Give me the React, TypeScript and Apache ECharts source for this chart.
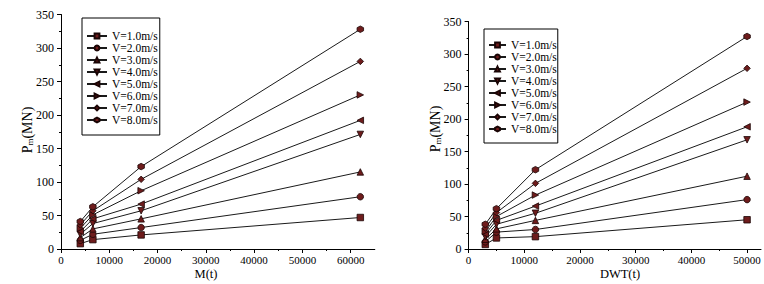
import React, { useEffect, useRef } from "react";
import * as echarts from "echarts";

const speedNames = ["V=1.0m/s", "V=2.0m/s", "V=3.0m/s", "V=4.0m/s", "V=5.0m/s", "V=6.0m/s", "V=7.0m/s", "V=8.0m/s"];

// left chart: displacement M(t)
const leftMass = [4000, 6600, 16600, 62000];
const leftV1 = [8, 14, 21, 47];
const leftV2 = [13, 22, 32, 78];
const leftV3 = [17, 30, 45, 115];
const leftV4 = [22, 38, 57, 171];
const leftV5 = [26, 45, 67, 192];
const leftV6 = [31, 51, 87, 230];
const leftV7 = [36, 57, 104, 280];
const leftV8 = [41, 63, 123, 328];

// right chart: DWT(t)
const rightDwt = [3000, 5000, 12000, 50000];
const rightV1 = [7, 17, 19, 45];
const rightV2 = [11, 26, 30, 76];
const rightV3 = [15, 31, 44, 112];
const rightV4 = [19, 38, 55, 168];
const rightV5 = [23, 44, 66, 188];
const rightV6 = [27, 50, 83, 226];
const rightV7 = [32, 56, 101, 278];
const rightV8 = [38, 62, 122, 327];

const yTicks = [0, 50, 100, 150, 200, 250, 300, 350];
const leftXMajor = [0, 10000, 20000, 30000, 40000, 50000, 60000];
const leftXMinor = [5000, 15000, 25000, 35000, 45000, 55000];
const rightXMajor = [0, 10000, 20000, 30000, 40000, 50000];
const rightXMinor = [5000, 15000, 25000, 35000, 45000];

const leftSeries = [leftV1, leftV2, leftV3, leftV4, leftV5, leftV6, leftV7, leftV8];
const rightSeries = [rightV1, rightV2, rightV3, rightV4, rightV5, rightV6, rightV7, rightV8];

const symbols = [
  "rect",
  "circle",
  "triangle",
  "path://M0,0L10,0L5,9Z",
  "path://M9,0L9,10L0,5Z",
  "path://M0,0L0,10L9,5Z",
  "diamond",
  "path://M5,0L9.5,2.6L9.5,7.4L5,10L0.5,7.4L0.5,2.6Z",
];

const FONT = "Liberation Serif";

export default function App() {
  const ref = useRef<HTMLDivElement>(null);
  useEffect(() => {
    if (!ref.current) return;
    const chart = echarts.init(ref.current, undefined, { renderer: "svg" });

    const makeSeries = (xs: number[], vals: number[][], axisIdx: number) =>
      vals.map((v, i) => ({
        name: speedNames[i],
        type: "line",
        xAxisIndex: axisIdx,
        yAxisIndex: axisIdx === 0 ? 0 : 1,
        data: xs.map((x, j) => [x, v[j]]),
        symbol: symbols[i],
        symbolSize: 6.5,
        showAllSymbol: true,
        lineStyle: { color: "#1a1a1a", width: 1 },
        itemStyle: { color: "#6e1c1c", borderColor: "#1a0505", borderWidth: 0.8 },
        emphasis: { disabled: true },
      }));

    const axisCommonY = (gridIndex: number) => ({
      type: "value",
      gridIndex,
      min: 0,
      max: 350,
      interval: 50,
      axisLine: { show: true, lineStyle: { color: "#000", width: 1 } },
      axisTick: { show: true, inside: false, length: 4, lineStyle: { color: "#000" } },
      minorTick: { show: true, splitNumber: 2, length: 2, lineStyle: { color: "#000" } },
      splitLine: { show: false },
      axisLabel: { color: "#000", fontFamily: FONT, fontSize: 12, margin: 7, customValues: yTicks },
    });

    const mainX = (gridIndex: number, max: number, major: number[]) => ({
      type: "value",
      gridIndex,
      min: 0,
      max,
      interval: 10000,
      axisLine: { show: true, onZero: false, lineStyle: { color: "#000", width: 1 } },
      axisTick: { show: true, inside: false, length: 4, customValues: major, lineStyle: { color: "#000" } },
      splitLine: { show: false },
      axisLabel: {
        color: "#000",
        fontFamily: FONT,
        fontSize: 11,
        margin: 5,
        customValues: major,
        formatter: (v: number) => String(v),
      },
    });

    const minorX = (gridIndex: number, max: number, minor: number[]) => ({
      type: "value",
      gridIndex,
      position: "bottom",
      min: 0,
      max,
      interval: 10000,
      axisLine: { show: false, onZero: false },
      axisTick: { show: true, inside: false, length: 2, customValues: minor, lineStyle: { color: "#000" } },
      splitLine: { show: false },
      axisLabel: { show: false },
    });

    const legendCommon = {
      orient: "vertical",
      data: speedNames,
      borderColor: "#000",
      borderWidth: 1,
      borderRadius: 0,
      itemGap: 0,
      itemHeight: 6,
      selectedMode: false,
      textStyle: { color: "#000", fontFamily: FONT, fontSize: 11.5, lineHeight: 12 },
    };

    const richName = {
      a: { fontFamily: FONT, fontSize: 14, fill: "#000" },
      b: { fontFamily: FONT, fontSize: 9, fill: "#000", padding: [6, 0, 0, 0] },
    };

    chart.setOption({
      animation: false,
      backgroundColor: "#fff",
      grid: [
        { left: 61, top: 14.5, width: 313.8, height: 234.5 },
        { left: 468.6, top: 21.5, width: 292.4, height: 227.5 },
      ],
      xAxis: [
        mainX(0, 65000, leftXMajor),
        mainX(1, 52500, rightXMajor),
        minorX(0, 65000, leftXMinor),
        minorX(1, 52500, rightXMinor),
      ],
      yAxis: [axisCommonY(0), axisCommonY(1)],
      legend: [
        { ...legendCommon, left: 82, top: 18, itemWidth: 20, padding: [12, 2, 9, 4] },
        { ...legendCommon, left: 484, top: 29, itemWidth: 17, padding: [10, 1, 8, 4] },
      ],
      graphic: [
        {
          type: "text",
          x: 27,
          y: 130,
          rotation: Math.PI / 2,
          style: { text: "{a|P}{b|m}{a|(MN)}", rich: richName, align: "center", verticalAlign: "middle" },
        },
        {
          type: "text",
          x: 435,
          y: 129,
          rotation: Math.PI / 2,
          style: { text: "{a|P}{b|m}{a|(MN)}", rich: richName, align: "center", verticalAlign: "middle" },
        },
        {
          type: "text",
          x: 206,
          y: 274,
          style: { text: "M(t)", fontFamily: FONT, fontSize: 12.5, fill: "#000", align: "center", verticalAlign: "middle" },
        },
        {
          type: "text",
          x: 620,
          y: 274,
          style: { text: "DWT(t)", fontFamily: FONT, fontSize: 12.5, fill: "#000", align: "center", verticalAlign: "middle" },
        },
      ],
      series: [...makeSeries(leftMass, leftSeries, 0), ...makeSeries(rightDwt, rightSeries, 1)],
    });

    return () => chart.dispose();
  }, []);

  return (
    <div
      ref={ref}
      style={{ position: "fixed", left: 0, top: 0, width: 764, height: 284, background: "#fff" }}
    />
  );
}
